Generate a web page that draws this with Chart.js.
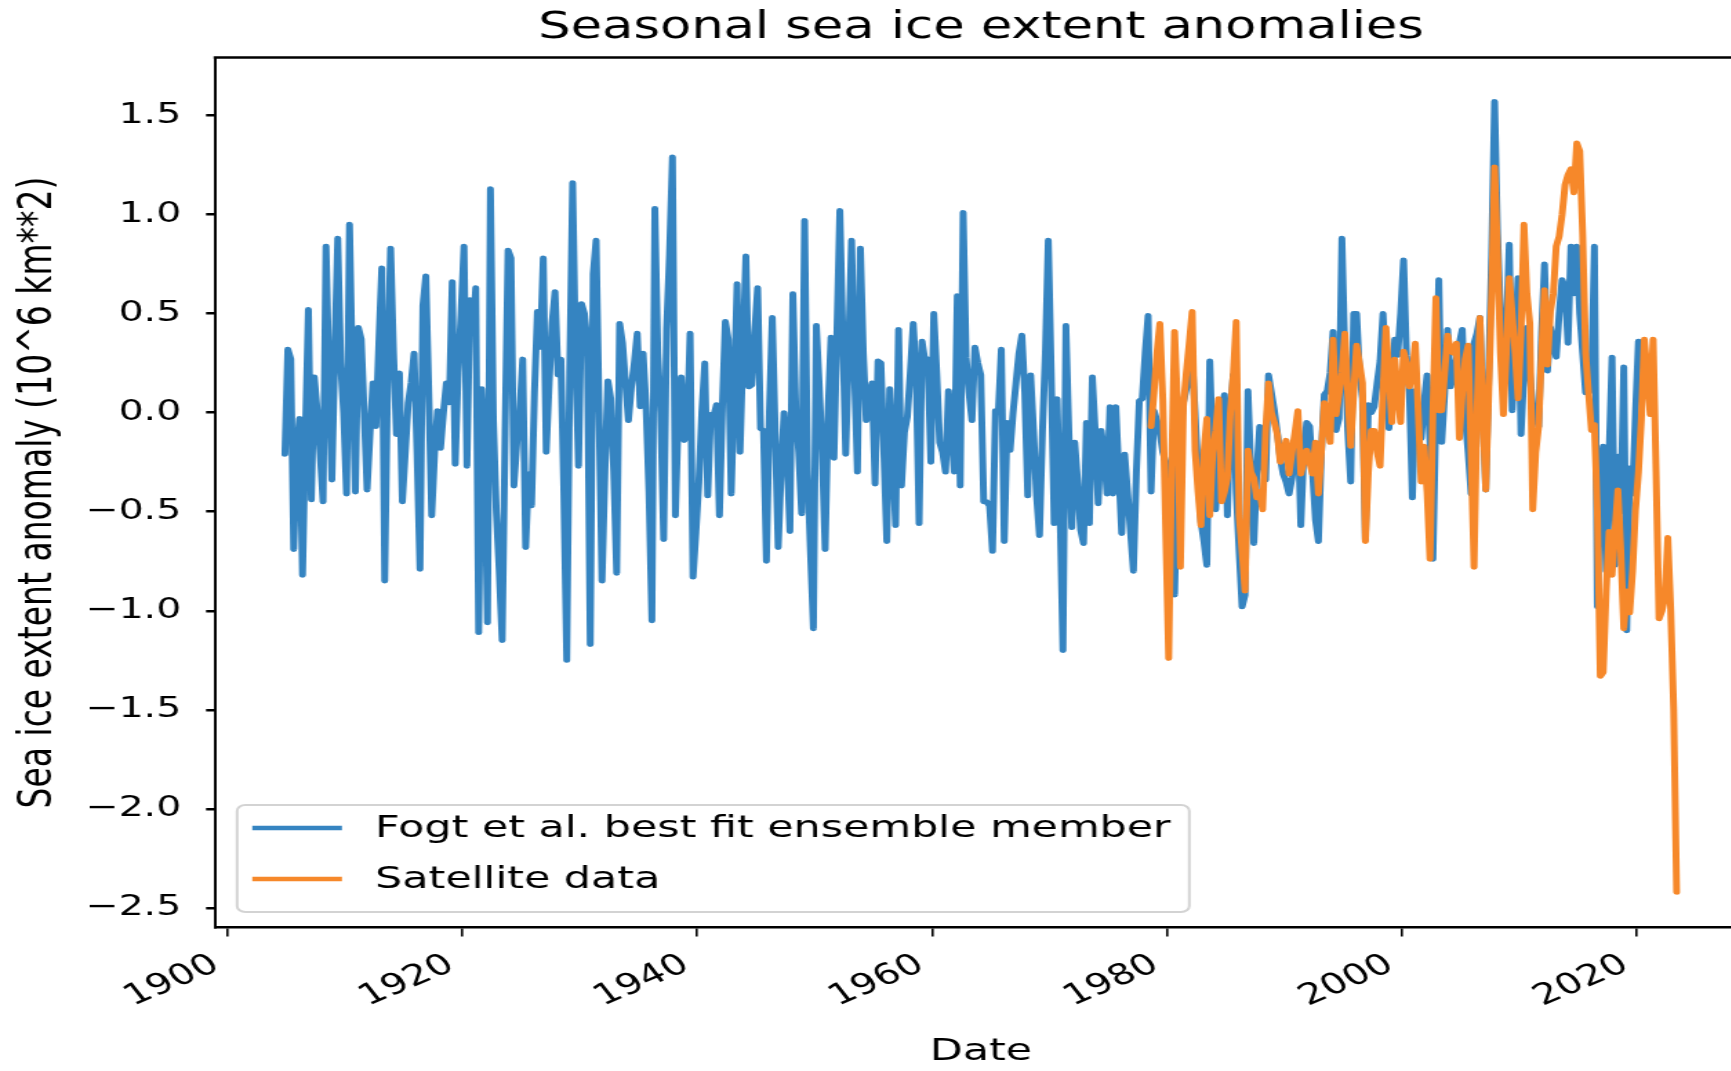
<!DOCTYPE html>
<html><head><meta charset="utf-8">
<script src="https://cdn.jsdelivr.net/npm/chart.js@4.4.1/dist/chart.umd.min.js"></script>
<style>
html,body{margin:0;padding:0;background:#fff;overflow:hidden;width:1731px;height:1071px;}
#wrap{position:absolute;left:0;top:0;width:1272px;height:1071px;transform:scaleX(1.38);transform-origin:0 0;}
canvas{display:block;}
</style></head><body>
<div id="wrap"><canvas id="c" width="1272" height="1071"></canvas></div>
<script>
const chartTitle = 'Seasonal sea ice extent anomalies';
const xAxisTitle = 'Date';
const yAxisTitle = 'Sea ice extent anomaly (10^6 km**2)';
const seriesNames = ['Fogt et al. best fit ensemble member', 'Satellite data'];
const xTicks = [1900, 1920, 1940, 1960, 1980, 2000, 2020];
const yTicks = [-2.5, -2, -1.5, -1, -0.5, 0, 0.5, 1, 1.5];
const seasonStep = 0.25;
const fogtStart = 1904.9;
const fogtValues = [
-0.21,0.32,0.27,-0.69, -0.20,-0.03,-0.82,-0.10, 0.52,-0.44,0.18,0.01, -0.20,-0.45,0.84,0.20,
-0.34,0.30,0.88,0.25, 0.00,-0.41,0.95,0.20, -0.40,0.43,0.37,0.00, -0.39,-0.10,0.15,-0.07,
0.35,0.73,-0.85,0.20, 0.83,0.30,-0.11,0.20, -0.45,-0.20,0.05,0.15, 0.30,-0.20,-0.79,0.54,
0.69,0.10,-0.52,-0.20, 0.01,-0.18,0.00,0.15, 0.05,0.66,-0.26,0.20, 0.50,0.84,-0.27,0.57,
0.40,0.63,-1.11,0.12, -0.20,-1.06,1.13,-0.03, -0.50,-0.80,-1.15,-0.10, 0.82,0.78,-0.37,-0.15,
0.00,0.27,-0.68,-0.31, -0.47,0.10,0.51,0.33, 0.78,-0.20,0.15,0.45, 0.61,0.19,0.27,-0.40,
-1.25,0.20,1.16,0.30, -0.27,0.55,0.50,0.35, -1.17,0.70,0.87,0.00, -0.85,-0.30,0.16,0.07,
-0.30,-0.81,0.45,0.35, 0.15,-0.04,0.13,0.25, 0.40,0.03,0.30,0.03, -0.40,-1.05,1.03,0.30,
0.00,-0.64,0.42,0.80, 1.29,-0.52,0.00,0.18, -0.14,-0.10,0.40,-0.83, -0.60,-0.35,0.00,0.25,
-0.42,-0.01,-0.02,0.04, -0.52,0.03,0.46,0.37, -0.41,0.10,0.65,-0.20, 0.30,0.79,0.13,0.14,
0.40,0.63,-0.08,-0.09, -0.75,0.00,0.48,-0.10, -0.68,-0.30,0.00,-0.20, -0.60,0.60,0.01,-0.20,
-0.51,0.97,-0.29,-0.70, -1.09,0.44,0.13,-0.20, -0.69,0.00,0.38,-0.23, 0.40,1.02,0.40,-0.21,
0.30,0.87,0.20,-0.30, 0.83,0.30,-0.04,0.09, 0.15,-0.36,0.26,0.25, -0.20,-0.65,0.12,-0.20,
-0.57,0.42,-0.37,-0.10, -0.02,0.20,0.45,0.19, -0.56,0.36,0.26,0.27, -0.25,0.50,0.20,-0.15,
-0.20,-0.30,0.11,-0.10, -0.30,0.59,-0.37,1.01, 0.28,0.10,-0.04,0.33, 0.25,0.19,-0.45,-0.45,
-0.47,-0.70,0.01,0.00, 0.32,-0.65,-0.05,-0.19, 0.00,0.15,0.30,0.39, 0.10,-0.42,0.19,-0.10,
-0.42,-0.62,-0.10,0.30, 0.87,0.20,-0.56,0.07, -0.50,-1.20,0.44,-0.10, -0.58,-0.15,-0.35,-0.59,
-0.66,-0.05,-0.56,0.18, -0.10,-0.46,-0.09,-0.20, -0.41,0.03,-0.41,0.03, -0.30,-0.61,-0.21,-0.40,
-0.60,-0.80,-0.30,0.06, 0.07,0.30,0.49,-0.40, 0.01,-0.04,-0.10,-0.20, -0.25,-0.29,-0.60,-0.92,
-0.28,-0.10,0.05,0.12, 0.17,0.27,0.00,-0.30, -0.55,-0.65,-0.77,0.26, -0.20,-0.49,-0.20,0.00,
0.09,-0.52,0.00,0.19, -0.40,-0.70,-0.98,-0.92, 0.11,-0.30,-0.66,-0.30, -0.07,-0.25,-0.34,0.19,
0.10,0.01,-0.10,-0.23, -0.31,-0.35,-0.41,-0.33, -0.20,-0.03,-0.57,-0.20, -0.05,-0.07,-0.30,-0.54,
-0.65,-0.20,0.09,0.11, 0.20,0.41,-0.09,-0.03, 0.88,0.30,-0.09,-0.35, 0.50,0.50,0.20,0.07,
-0.64,0.04,0.00,0.03, 0.15,0.26,0.50,0.20, -0.08,0.10,0.37,0.29, 0.50,0.77,0.29,0.10,
-0.43,0.11,0.00,-0.13, 0.05,0.19,-0.15,-0.74, 0.00,0.67,-0.15,0.10, 0.42,0.13,0.20,0.27,
0.35,0.42,-0.03,-0.20, -0.41,0.35,0.40,0.48, 0.00,-0.39,0.20,0.80, 1.57,0.90,0.50,0.11,
0.40,0.85,0.01,0.35, 0.68,-0.11,0.20,0.43, 0.20,0.03,0.00,-0.07, 0.40,0.75,0.21,0.43,
0.35,0.28,0.50,0.67, 0.63,0.35,0.84,0.60, 0.84,0.50,0.30,0.10, 0.10,0.16,0.84,-0.98,
-0.30,-0.17,-0.80,-0.22, 0.28,-0.77,-0.22,-0.50, 0.23,-1.10,-0.28,-0.41, 0.00,0.36
];
const satStart = 1978.65;
const satValues = [
-0.07,0.10,0.30,0.45, 0.07,-0.60,-1.24,-0.29, 0.41,0.04,-0.78,0.03, 0.20,0.35,0.51,-0.19,
-0.40,-0.57,-0.20,-0.03, -0.52,-0.20,-0.09,0.07, -0.45,-0.40,-0.33,0.00, 0.19,0.46,-0.52,-0.70,
-0.90,-0.19,-0.30,-0.33, -0.43,-0.40,-0.49,-0.10, 0.15,0.00,-0.05,-0.11, -0.25,-0.20,-0.14,-0.31,
-0.20,-0.10,0.01,-0.31, -0.25,-0.19,-0.25,-0.31, -0.15,-0.41,-0.20,0.05, -0.05,-0.15,0.37,-0.01,
0.09,0.20,0.40,0.10, -0.17,0.10,0.34,0.25, 0.15,-0.65,-0.30,-0.09, -0.09,-0.20,-0.27,0.10,
0.43,0.20,-0.05,0.27, 0.10,-0.05,0.31,0.25, 0.13,0.20,0.35,0.00, -0.35,-0.17,-0.40,-0.74,
0.00,0.58,0.01,0.01, 0.20,0.39,0.31,0.30, 0.35,-0.13,0.10,0.27, 0.34,-0.20,-0.78,0.00,
0.48,0.00,-0.39,0.10, 0.60,1.24,0.80,0.30, -0.01,0.30,0.68,0.50, 0.30,0.07,0.40,0.95,
0.60,0.45,-0.49,-0.20, -0.07,0.30,0.62,0.24, 0.51,0.60,0.84,0.89, 1.00,1.15,1.20,1.23,
1.11,1.36,1.32,0.90, 0.30,0.10,-0.09,-0.06, -0.50,-1.33,-1.31,-0.90, -0.60,-0.82,-0.60,-0.39,
-0.70,-1.09,-0.90,-1.01, -0.80,-0.49,-0.30,-0.03, 0.37,0.20,-0.01,0.37, -0.30,-1.04,-1.00,-0.93,
-0.63,-1.00,-1.50,-2.42
];
const seriesColors = ['#3584c1', '#f6882a'];

const FONT = 'DejaVu Sans';
const toPoints = (start, vals) => vals.map((v, i) => ({x: start + i * seasonStep, y: v}));
const fmtY = v => (v < 0 ? '\u2212' : '') + Math.abs(v).toFixed(1);

const topSpine = {
  id: 'topSpine',
  afterDraw(chart) {
    const {ctx, chartArea: a} = chart;
    ctx.save();
    ctx.strokeStyle = '#000';
    ctx.lineWidth = 2.5;
    ctx.beginPath();
    ctx.moveTo(a.left - 1, a.top);
    ctx.lineTo(a.right, a.top);
    ctx.stroke();
    ctx.lineWidth = 2;
    ctx.beginPath();
    ctx.moveTo(a.right, a.top);
    ctx.lineTo(a.right, a.bottom);
    ctx.stroke();
    ctx.restore();
  }
};

const innerLegend = {
  id: 'innerLegend',
  afterDraw(chart, args, opts) {
    const {ctx, chartArea: a} = chart;
    const x0 = a.left + opts.offsetX, y1 = a.bottom - opts.offsetY;
    const w = opts.width, h = opts.height, y0 = y1 - h, r = opts.radius;
    ctx.save();
    ctx.beginPath();
    ctx.moveTo(x0 + r, y0);
    ctx.arcTo(x0 + w, y0, x0 + w, y1, r);
    ctx.arcTo(x0 + w, y1, x0, y1, r);
    ctx.arcTo(x0, y1, x0, y0, r);
    ctx.arcTo(x0, y0, x0 + w, y0, r);
    ctx.closePath();
    ctx.fillStyle = 'rgba(255,255,255,0.8)';
    ctx.fill();
    ctx.strokeStyle = '#d3d3d3';
    ctx.lineWidth = 2;
    ctx.stroke();
    ctx.font = opts.fontSize + 'px "' + FONT + '"';
    ctx.textBaseline = 'middle';
    ctx.textAlign = 'left';
    chart.data.datasets.forEach((ds, i) => {
      const ly = y0 + opts.firstRow + i * opts.rowGap;
      ctx.strokeStyle = ds.borderColor;
      ctx.lineWidth = opts.sampleWidth;
      ctx.lineCap = 'butt';
      ctx.beginPath();
      ctx.moveTo(x0 + opts.lineStart, ly);
      ctx.lineTo(x0 + opts.lineEnd, ly);
      ctx.stroke();
      ctx.fillStyle = '#000';
      ctx.fillText(ds.label, x0 + opts.textStart, ly + 1);
    });
    ctx.restore();
  }
};

new Chart(document.getElementById('c'), {
  type: 'line',
  data: {
    datasets: [
      {label: seriesNames[0], data: toPoints(fogtStart, fogtValues), borderColor: seriesColors[0], backgroundColor: seriesColors[0], borderWidth: 5, pointRadius: 0, tension: 0, fill: false, order: 1, borderJoinStyle: 'round', borderCapStyle: 'round'},
      {label: seriesNames[1], data: toPoints(satStart, satValues), borderColor: seriesColors[1], backgroundColor: seriesColors[1], borderWidth: 5, pointRadius: 0, tension: 0, fill: false, order: 0, borderJoinStyle: 'round', borderCapStyle: 'round'}
    ]
  },
  options: {
    responsive: false,
    animation: false,
    devicePixelRatio: 1,
    layout: {padding: {left: 0, right: 6, top: 0, bottom: 0}},
    plugins: {
      legend: {display: false},
      tooltip: {enabled: false},
      title: {display: true, text: chartTitle, fullSize: false, color: '#000', font: {family: FONT, size: 37, weight: 'normal'}, padding: {top: 6, bottom: 7.1}},
      innerLegend: {offsetX: 16, offsetY: 15.5, width: 690, height: 107, radius: 6, firstRow: 23, rowGap: 51, lineStart: 11, lineEnd: 76, textStart: 100, fontSize: 31, sampleWidth: 4.5}
    },
    scales: {
      x: {
        type: 'linear', min: 1898.95, max: 2029.4,
        afterBuildTicks: s => { s.ticks = xTicks.map(v => ({value: v})); },
        afterFit: s => { s.height = 143.5; },
        ticks: {color: '#000', font: {family: FONT, size: 29}, padding: 11, labelOffset: -8, minRotation: 30, maxRotation: 30, autoSkip: false, callback: v => String(v)},
        grid: {display: true, drawOnChartArea: false, drawTicks: true, tickLength: 9, color: '#000', lineWidth: 1.6},
        border: {display: true, color: '#000', width: 2.5},
        title: {display: true, text: xAxisTitle, color: '#000', font: {family: FONT, size: 31}, padding: {top: 4, bottom: 0}}
      },
      y: {
        type: 'linear', min: -2.598, max: 1.792,
        afterBuildTicks: s => { s.ticks = yTicks.map(v => ({value: v})); },
        afterFit: s => { s.width = 155.8; },
        ticks: {color: '#000', font: {family: FONT, size: 28.5}, padding: 18, callback: v => fmtY(v)},
        grid: {display: true, drawOnChartArea: false, drawTicks: true, tickLength: 6.5, color: '#000', lineWidth: 2.5},
        border: {display: true, color: '#000', width: 2},
        title: {display: true, text: yAxisTitle, color: '#000', font: {family: FONT, size: 33}, padding: {top: 9, bottom: 0}}
      }
    }
  },
  plugins: [topSpine, innerLegend]
});
</script>
</body></html>
